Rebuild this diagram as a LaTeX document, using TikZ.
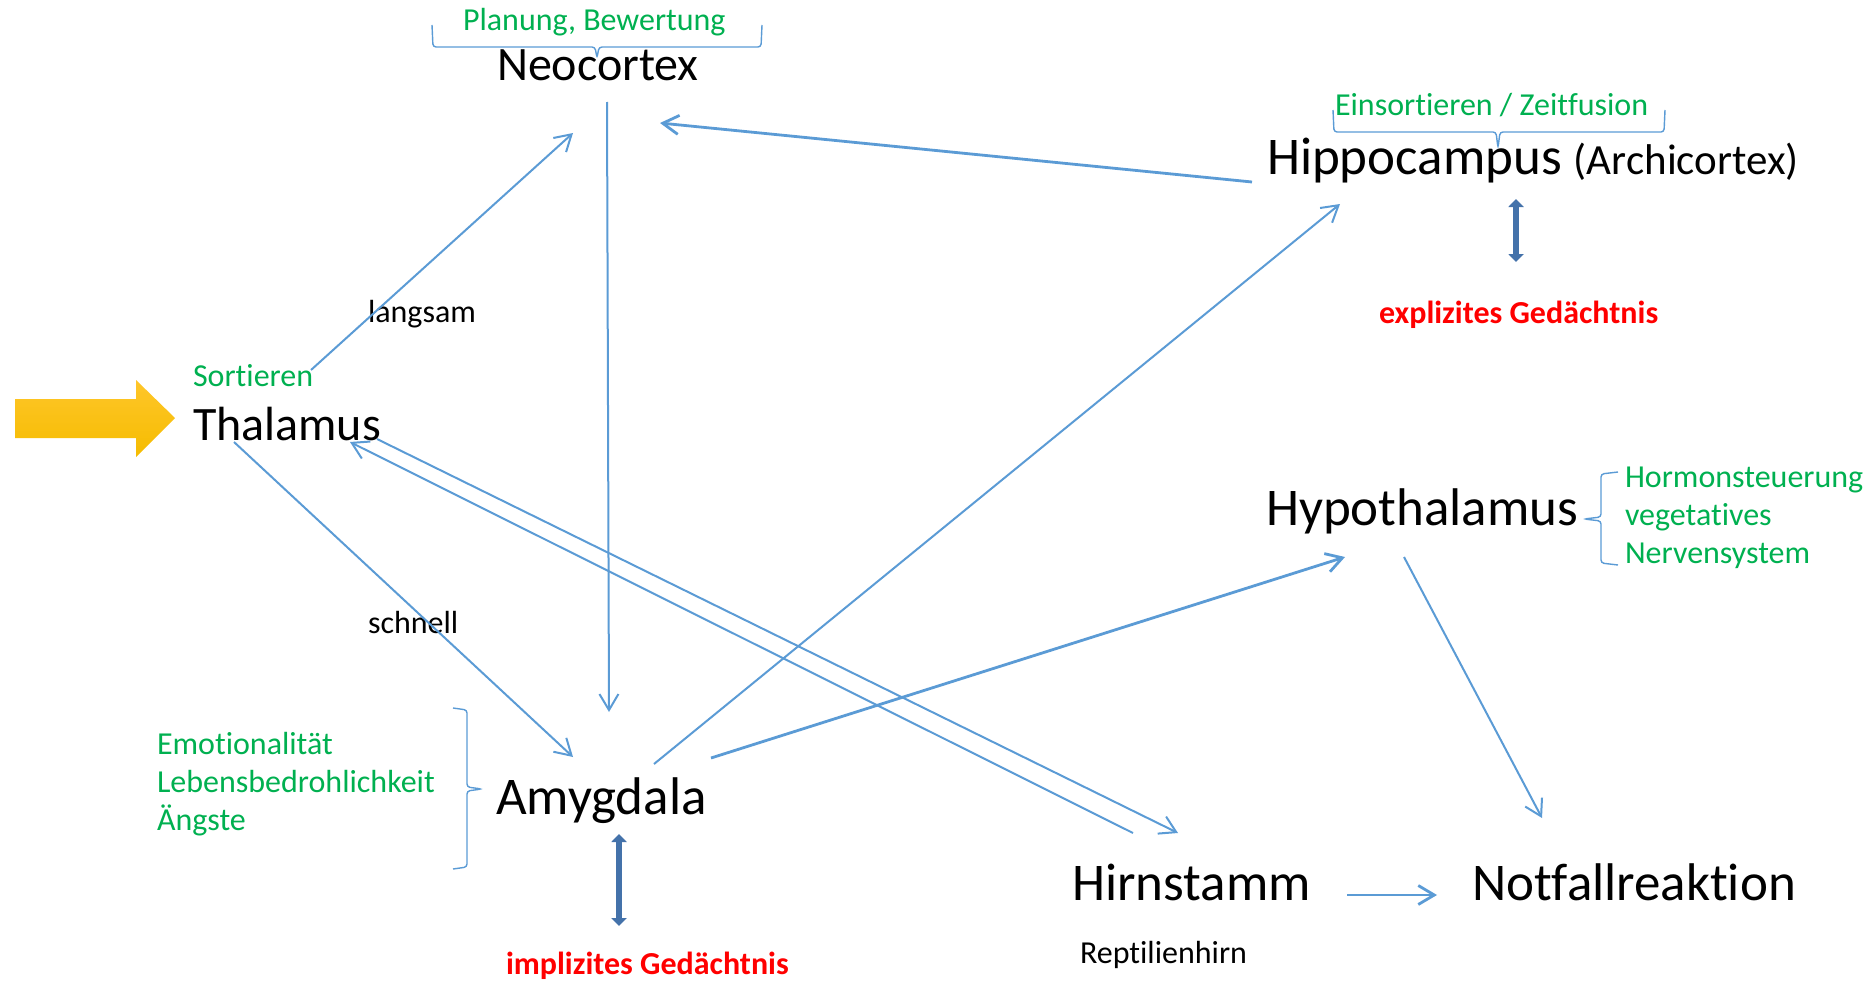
\documentclass[tikz,border=0pt]{standalone}
\usepackage{fontspec}
\setmainfont{Carlito}[Ligatures=NoCommon]
\usetikzlibrary{arrows.meta}
\definecolor{lblue}{RGB}{91,155,213}
\definecolor{dblue}{RGB}{68,114,170}
\definecolor{mygreen}{RGB}{0,176,80}
\definecolor{myred}{RGB}{255,0,0}
\definecolor{yeltop}{RGB}{255,198,42}
\definecolor{yelbot}{RGB}{245,188,0}
\tikzset{
  txt/.style={inner sep=0pt, outer sep=0pt, anchor=base west},
  bigtext/.style={txt, font=\fontsize{53}{63}\selectfont},
  medtext/.style={txt, font=\fontsize{48}{58}\selectfont},
  smalltext/.style={txt, font=\fontsize{32}{38}\selectfont},
  greentext/.style={smalltext, text=mygreen},
  redtext/.style={txt, font=\fontsize{32}{38}\selectfont\bfseries, text=myred},
  conn/.style={draw=lblue, line width=2pt, -{Straight Barb[length=16pt,width=19pt]}},
  thickconn/.style={conn, line width=2.8pt},
  dbl/.style={draw=dblue, line width=6pt, {Triangle[length=8pt,width=15pt]}-{Triangle[length=8pt,width=15pt]}},
  bracepath/.style={draw=lblue, line width=1.4pt, rounded corners=3pt},
}
\begin{document}
\begin{tikzpicture}[x=1pt,y=-1pt]
\useasboundingbox (0,0) rectangle (1875,982);
% text nodes
\node[greentext] (plan) at (463,31) {Planung, Bewertung};
\node[medtext] (neo) at (497,81) {Neocortex};
\node[greentext] (ein) at (1335,115) {Einsortieren / Zeitfusion};
\node[bigtext] (hippo) at (1267,174) {Hippocampus {\fontsize{43}{52}\selectfont(Archicortex)}};
\node[redtext] (expl) at (1379,323) {explizites Gedächtnis};
\node[greentext] (sort) at (193,386) {Sortieren};
\node[medtext] (thal) at (193,440) {Thalamus};
\node[smalltext] (lang) at (368,322) {langsam};
\node[smalltext] (schn) at (368,633) {schnell};
\node[bigtext] (hypo) at (1266,525) {Hypothalamus};
\node[greentext] (horm) at (1625,487) {Hormonsteuerung};
\node[greentext] (veg) at (1625,525) {vegetatives};
\node[greentext] (nerv) at (1625,563) {Nervensystem};
\node[greentext] (emo) at (157,754) {Emotionalität};
\node[greentext] (leb) at (157,792) {Lebensbedrohlichkeit};
\node[greentext] (ang) at (157,830) {Ängste};
\node[bigtext] (amy) at (496,814) {Amygdala};
\node[redtext] (impl) at (506,974) {implizites Gedächtnis};
\node[bigtext] (hirn) at (1072,900) {Hirnstamm};
\node[smalltext] (rept) at (1080,963) {Reptilienhirn};
\node[bigtext] (notf) at (1472,900) {Notfallreaktion};
% input arrow
\shade[top color=yeltop, bottom color=yelbot]
  (15,399) -- (136,399) -- (136,380) -- (175,418) -- (136,457) -- (136,438) -- (15,438) -- cycle;
% connector end points
\coordinate (thalA) at (311,370);
\coordinate (neoA) at (573,133);
\coordinate (neoB) at (607,102);
\coordinate (amyB) at (609,712);
\coordinate (hipC) at (1252,182);
\coordinate (neoC) at (660,123);
\coordinate (thalD) at (234,442);
\coordinate (amyD) at (573,757);
\coordinate (amyE) at (654,764);
\coordinate (hipE) at (1340,204);
\coordinate (amyF) at (711,758);
\coordinate (hypF) at (1345,557);
\coordinate (hirG) at (1133,833);
\coordinate (thalG) at (350,442);
\coordinate (thalH) at (377,439);
\coordinate (hirH) at (1178,833);
\coordinate (hypI) at (1404,557);
\coordinate (notI) at (1542,818);
\coordinate (hirJ) at (1347,895);
\coordinate (notJ) at (1437,895);
\coordinate (hipK1) at (1516,199);
\coordinate (hipK2) at (1516,262);
\coordinate (amyL1) at (619,834);
\coordinate (amyL2) at (619,926);
% connectors
\draw[conn] (thalA) -- (neoA);
\draw[conn] (neoB) -- (amyB);
\draw[thickconn] (hipC) -- (neoC);
\draw[conn] (thalD) -- (amyD);
\draw[conn] (amyE) -- (hipE);
\draw[thickconn] (amyF) -- (hypF);
\draw[conn] (hirG) -- (thalG);
\draw[conn] (thalH) -- (hirH);
\draw[conn] (hypI) -- (notI);
\draw[thickconn] (hirJ) -- (notJ);
\draw[dbl] (hipK1) -- (hipK2);
\draw[dbl] (amyL1) -- (amyL2);
% braces
\draw[bracepath] (432,25) -- (433,47) -- (595,47) -- (597,58) -- (599,47) -- (761,47) -- (762,25);
\draw[bracepath] (1333,110) -- (1334,132) -- (1496,132) -- (1498,148) -- (1500,132) -- (1664,132) -- (1665,110);
\draw[bracepath] (453,708) -- (467,710) -- (467,787) -- (482,789) -- (467,791) -- (467,867) -- (453,869);
\draw[bracepath] (1618,472) -- (1601,474) -- (1601,517) -- (1584,519) -- (1601,521) -- (1601,563) -- (1618,565);
\end{tikzpicture}
\end{document}
